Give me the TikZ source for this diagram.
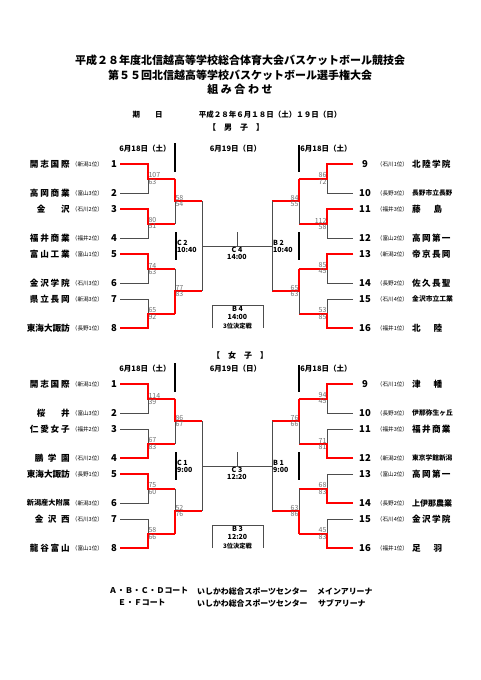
\documentclass[tikz,border=0pt]{standalone}
\usepackage{fontspec}
\setmainfont{Noto Sans CJK JP}
\usetikzlibrary{positioning}
\definecolor{winRed}{HTML}{FF0000}
\definecolor{lineGray}{HTML}{4D4D4D}
\definecolor{scoreGray}{HTML}{6E6E6E}

\newcommand{\nm}[2]{\makebox[#1pt][s]{#2}}

\begin{document}
\begin{tikzpicture}[x=1pt, y=-1pt,
    title/.style={font=\fontsize{11}{12}\selectfont\bfseries, inner sep=0},
    dayhead/.style={font=\fontsize{7.5}{8}\selectfont\bfseries, inner sep=0},
    tname/.style={font=\fontsize{8.6}{9}\selectfont\bfseries, inner sep=0},
    pref/.style={font=\fontsize{5.6}{6}\selectfont, inner sep=0},
    seed/.style={font=\fontsize{9.5}{10}\selectfont\bfseries, inner sep=0},
    score/.style={font=\fontsize{7}{7.5}\selectfont, text=scoreGray, inner sep=0.3pt},
    rlbl/.style={font=\fontsize{7}{7.5}\selectfont\bfseries, inner sep=0, align=left},
    thirdlbl/.style={font=\fontsize{6.2}{7}\selectfont\bfseries, inner sep=0},
    court/.style={font=\fontsize{7.9}{8}\selectfont\bfseries, inner sep=0, anchor=west},
    bline/.style={draw=lineGray, line width=0.8pt},
    win/.style={draw=winRed, line width=2pt},
    sepbar/.style={draw=black, line width=1.2pt},
  ]
  \fill[white] (0,0) rectangle (481,680);
  \useasboundingbox (0,0) rectangle (481,680);

  % titles
  \node[title] (title1) at (240,60) {平成２８年度北信越高等学校総合体育大会バスケットボール競技会};
  \node[title] (title2) at (240,75) {第５５回北信越高等学校バスケットボール選手権大会};
  \node[title] (title3) at (240,89.5) {組 み 合 わ せ};
  \node[dayhead] (kijitsu) at (147.5,115) {期　　日};
  \node[dayhead] (kdate) at (270,115) {平成２８年６月１８日（土）１９日（日）};
  \node[dayhead, font=\fontsize{8}{8}\selectfont\bfseries] (mhead) at (236,127) {【　男　子　】};
  \node[dayhead, font=\fontsize{8}{8}\selectfont\bfseries] (whead) at (240,355) {【　女　子　】};

  % teams, left side
  \foreach \g/\by/\i/\dy/\w/\tn/\pf in {
      m/0/1/0/40/開 志 国 際/新潟1位, m/0/2/29/40/高 岡 商 業/富山3位,
      m/0/3/45/33/金 沢/石川2位, m/0/4/74/40/福 井 商 業/福井2位,
      m/0/5/90/40/富 山 工 業/富山1位, m/0/6/119/40/金 沢 学 院/石川3位,
      m/0/7/135/40/県 立 長 岡/新潟3位, m/0/8/164/43/東海大諏訪/長野1位,
      w/220/1/0/40/開 志 国 際/新潟1位, w/220/2/29/33/桜 井/富山3位,
      w/220/3/45/40/仁 愛 女 子/福井2位, w/220/4/74/35/鵬 学 園/石川2位,
      w/220/5/90/43/東海大諏訪/長野1位, w/220/6/119/43/{\fontsize{7.2}{8}\selectfont 新潟産大附属}/新潟3位,
      w/220/7/135/35/金 沢 西/石川3位, w/220/8/164/40/龍 谷 富 山/富山1位}{
    \coordinate (\g L\i) at (120,164+\by+\dy);
    \coordinate (\g l\i) at (148,164+\by+\dy);
    \node[seed] (\g n\i) at (114,164+\by+\dy) {\i};
    \node[pref] (\g p\i) at (87.5,164+\by+\dy) {（\pf）};
    \node[tname, anchor=east] (\g t\i) at (70,164+\by+\dy) {\nm{\w}{\tn}};
  }

  % teams, right side
  \foreach \g/\by/\i/\dy/\w/\tn/\pf in {
      m/0/9/0/38/北 陸 学 院/石川1位, m/0/10/29/40/{\fontsize{6.7}{7}\selectfont 長野市立長野}/長野3位,
      m/0/11/45/30/藤 島/福井3位, m/0/12/74/38/高 岡 第 一/富山2位,
      m/0/13/90/38/帝 京 長 岡/新潟2位, m/0/14/119/38/佐 久 長 聖/長野2位,
      m/0/15/135/41/{\fontsize{6.8}{7}\selectfont 金沢市立工業}/石川4位, m/0/16/164/30/北 陸/福井1位,
      w/220/9/0/30/津 幡/石川1位, w/220/10/29/41/{\fontsize{6.8}{7}\selectfont 伊那弥生ヶ丘}/長野3位,
      w/220/11/45/38/福 井 商 業/福井3位, w/220/12/74/40/{\fontsize{6.7}{7}\selectfont 東京学館新潟}/新潟2位,
      w/220/13/90/38/高 岡 第 一/富山2位, w/220/14/119/40/{\fontsize{8}{9}\selectfont 上伊那農業}/長野2位,
      w/220/15/135/38/金 沢 学 院/石川4位, w/220/16/164/30/足 羽/福井1位}{
    \coordinate (\g R\i) at (353,164+\by+\dy);
    \coordinate (\g r\i) at (327,164+\by+\dy);
    \node[seed] (\g n\i) at (365,164+\by+\dy) {\i};
    \node[pref] (\g p\i) at (392.5,164+\by+\dy) {（\pf）};
    \node[tname, anchor=west] (\g t\i) at (412,164+\by+\dy) {\nm{\w}{\tn}};
  }

  % first round, left
  \foreach \g/\by/\j/\up/\dn/\wn/\sa/\sb/\jy in {
      m/0/1/1/2/1/107/63/14.5, m/0/2/3/4/3/80/51/59.5, m/0/3/5/6/5/74/63/104.5, m/0/4/7/8/8/65/92/149.5,
      w/220/1/1/2/1/114/39/14.5, w/220/2/3/4/4/67/83/59.5, w/220/3/5/6/5/75/60/104.5, w/220/4/7/8/8/58/66/149.5}{
    \coordinate (\g lj\j) at (148,164+\by+\jy);
    \coordinate (\g lk\j) at (175,164+\by+\jy);
    \draw[bline] (\g L\up) -- (\g l\up) -- (\g l\dn) -- (\g L\dn);
    \draw[bline] (\g lj\j) -- (\g lk\j);
    \draw[win] (\g L\wn) -- (\g l\wn) -- (\g lj\j) -- (\g lk\j);
    \node[score, anchor=south west] (\g lsa\j) at (\g lj\j) {\sa};
    \node[score, anchor=north west] (\g lsb\j) at (\g lj\j) {\sb};
  }

  % first round, right
  \foreach \g/\by/\j/\up/\dn/\wn/\sa/\sb/\jy in {
      m/0/1/9/10/9/86/72/14.5, m/0/2/11/12/11/112/58/59.5, m/0/3/13/14/13/85/45/104.5, m/0/4/15/16/16/53/85/149.5,
      w/220/1/9/10/9/94/45/14.5, w/220/2/11/12/12/71/81/59.5, w/220/3/13/14/14/68/83/104.5, w/220/4/15/16/16/45/83/149.5}{
    \coordinate (\g rj\j) at (327,164+\by+\jy);
    \coordinate (\g rk\j) at (299,164+\by+\jy);
    \draw[bline] (\g R\up) -- (\g r\up) -- (\g r\dn) -- (\g R\dn);
    \draw[bline] (\g rj\j) -- (\g rk\j);
    \draw[win] (\g R\wn) -- (\g r\wn) -- (\g rj\j) -- (\g rk\j);
    \node[score, anchor=south east] (\g rsa\j) at (\g rj\j) {\sa};
    \node[score, anchor=north east] (\g rsb\j) at (\g rj\j) {\sb};
  }

  % second round, both sides
  \foreach \g/\by/\k/\up/\dn/\wn/\sa/\sb/\qy in {
      m/0/1/1/2/1/58/54/37, m/0/2/3/4/4/77/83/127,
      w/220/1/1/2/1/86/67/37, w/220/2/3/4/4/52/76/127}{
    \coordinate (\g lq\k) at (175,164+\by+\qy);
    \coordinate (\g lr\k) at (202,164+\by+\qy);
    \draw[bline] (\g lk\up) -- (\g lk\dn);
    \draw[bline] (\g lq\k) -- (\g lr\k);
    \draw[win] (\g lk\wn) -- (\g lq\k) -- (\g lr\k);
    \node[score, anchor=south west] (\g lqa\k) at (\g lq\k) {\sa};
    \node[score, anchor=north west] (\g lqb\k) at (\g lq\k) {\sb};
  }
  \foreach \g/\by/\k/\up/\dn/\wn/\sa/\sb/\qy in {
      m/0/1/1/2/1/84/55/37, m/0/2/3/4/3/65/63/127,
      w/220/1/1/2/1/76/66/37, w/220/2/3/4/4/63/86/127}{
    \coordinate (\g rq\k) at (299,164+\by+\qy);
    \coordinate (\g rr\k) at (272,164+\by+\qy);
    \draw[bline] (\g rk\up) -- (\g rk\dn);
    \draw[bline] (\g rq\k) -- (\g rr\k);
    \draw[win] (\g rk\wn) -- (\g rq\k) -- (\g rr\k);
    \node[score, anchor=south east] (\g rqa\k) at (\g rq\k) {\sa};
    \node[score, anchor=north east] (\g rqb\k) at (\g rq\k) {\sb};
  }

  % semifinals, final, third place, day columns
  \foreach \g/\by/\lc/\lt/\rc/\rt/\fc/\ft/\pc/\pt in {
      m/0/C 2/10:40/B 2/10:40/C 4/14:00/B 4/14:00,
      w/220/C 1/9:00/B 1/9:00/C 3/12:20/B 3/12:20}{
    \draw[bline] (\g lr1) -- (\g lr2);
    \draw[bline] (\g rr1) -- (\g rr2);
    \coordinate (\g ls) at (202,246+\by);
    \coordinate (\g rs) at (272,246+\by);
    \draw[bline] (\g ls) -- (\g rs);
    \coordinate (\g tk) at (237,232+\by);
    \draw[bline] (\g tk) -- (\g tk |- \g ls);
    \node[rlbl, anchor=west] (\g lcl) at (177,246.5+\by) {\lc\\\lt};
    \node[rlbl, anchor=west] (\g rcl) at (273,246.5+\by) {\rc\\\rt};
    \node[rlbl, align=center] (\g fcl) at (237,253.5+\by) {\fc\\\ft};
    \draw[bline] (212,328+\by) -- (212,305+\by) -- (263,305+\by) -- (263,328+\by);
    \node[rlbl, align=center] (\g pcl) at (237.5,313+\by) {\pc\\\pt};
    \node[thirdlbl] (\g pdl) at (237.5,326+\by) {3位決定戦};
    \draw[sepbar] (175,143+\by) -- (175,172+\by);
    \draw[sepbar] (299,145+\by) -- (299,172+\by);
    \draw[sepbar] (176,232+\by) -- (176,260+\by);
    \draw[sepbar] (299,232+\by) -- (299,260+\by);
    \node[dayhead] (\g dl) at (145,149+\by) {6月18日（土）};
    \node[dayhead] (\g dc) at (235.5,149+\by) {6月19日（日）};
    \node[dayhead] (\g dr) at (326,149+\by) {6月18日（土）};
  }

  % courts
  \node[court] (crt1) at (109,591) {Ａ・Ｂ・Ｃ・Ｄコート};
  \node[court] (hall1) at (197,591) {いしかわ総合スポーツセンター};
  \node[court] (arena1) at (317,591) {メインアリーナ};
  \node[court] (crt2) at (118,603) {Ｅ・Ｆコート};
  \node[court] (hall2) at (197,603) {いしかわ総合スポーツセンター};
  \node[court] (arena2) at (318,603) {サブアリーナ};
\end{tikzpicture}
\end{document}
